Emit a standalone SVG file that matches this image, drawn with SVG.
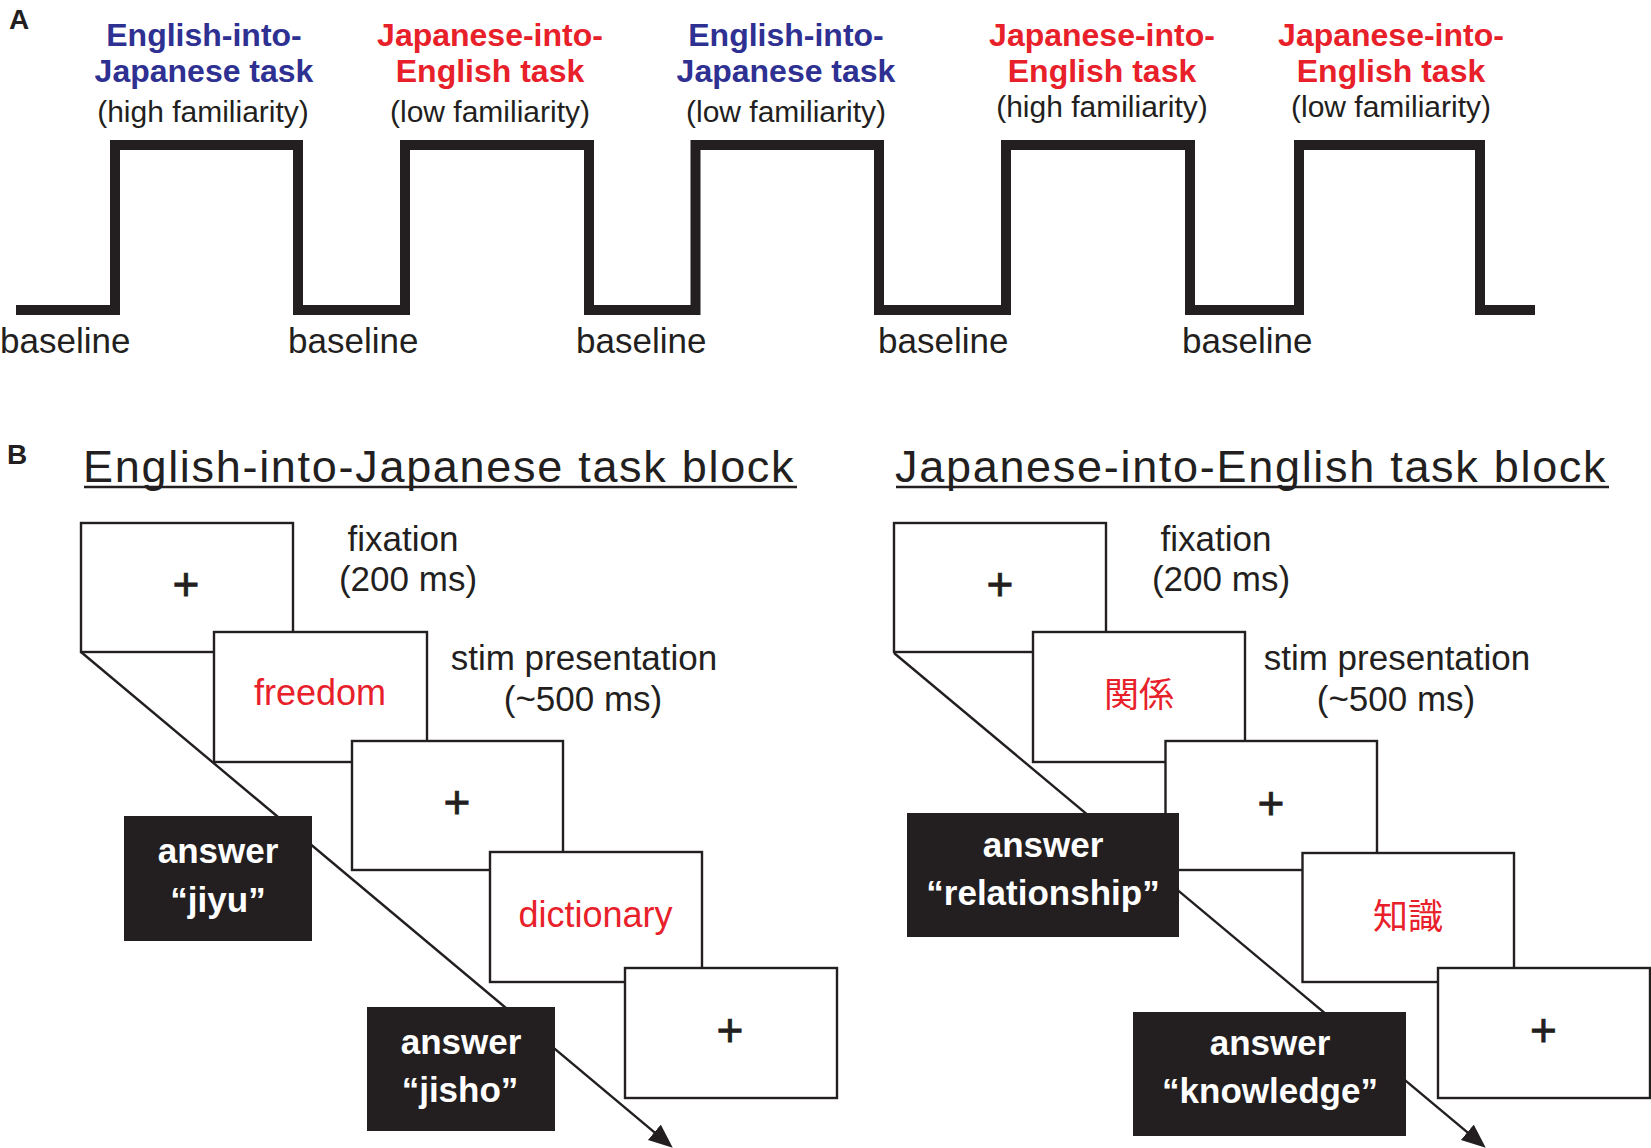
<svg xmlns="http://www.w3.org/2000/svg" width="1651" height="1148" viewBox="0 0 1651 1148">
<style>
.t{font-family:"Liberation Sans",Arial,sans-serif;fill:#231f20}
.b{font-weight:bold}
.blue{fill:#2e3192}
.red{fill:#e8202a}
.lab{font-size:32px;font-weight:bold;text-anchor:middle}
.fam{font-size:30px;text-anchor:middle}
.base{font-size:35px}
.title{font-size:45px;letter-spacing:1.7px}
.note{font-size:35px;text-anchor:middle}
.word{font-size:36px;text-anchor:middle}
.cjk{font-family:"Liberation Sans","Noto Sans CJK JP",sans-serif;font-size:35px;text-anchor:middle}
.plus{font-size:46px;text-anchor:middle;stroke:#231f20;stroke-width:0.8}
.ans{font-size:35px;font-weight:bold;text-anchor:middle;fill:#fff}
.box{fill:#fff;stroke:#231f20;stroke-width:2.4}
.blk{fill:#231f20}
.conn{stroke:#231f20;stroke-width:2.4;fill:none}
.ul{stroke:#231f20;stroke-width:2.5}
</style>
<defs>
<marker id="arr" markerUnits="userSpaceOnUse" markerWidth="26" markerHeight="22" refX="20" refY="10" orient="auto">
<path d="M0,0 L24,10 L0,20 Z" fill="#231f20"/>
</marker>
</defs>
<rect width="1651" height="1148" fill="#fff"/>

<g id="panelA">
<text class="t b" x="9" y="29" font-size="28">A</text>
<path id="wave" d="M16 310 H115 V145 H298 V310 H405 V145 H589 V310 H695.5 V145 H879 V310 H1006 V145 H1190 V310 H1299 V145 H1480 V310 H1535" fill="none" stroke="#231f20" stroke-width="10" stroke-linejoin="miter"/>
<g id="labelA1">
<text class="t lab blue" x="204" y="46">English-into-</text>
<text class="t lab blue" x="204" y="82">Japanese task</text>
<text class="t fam" x="203" y="122">(high familiarity)</text>
</g>
<g id="labelA2">
<text class="t lab red" x="490" y="46">Japanese-into-</text>
<text class="t lab red" x="490" y="82">English task</text>
<text class="t fam" x="490" y="122">(low familiarity)</text>
</g>
<g id="labelA3">
<text class="t lab blue" x="786" y="46">English-into-</text>
<text class="t lab blue" x="786" y="82">Japanese task</text>
<text class="t fam" x="786" y="122">(low familiarity)</text>
</g>
<g id="labelA4">
<text class="t lab red" x="1102" y="46">Japanese-into-</text>
<text class="t lab red" x="1102" y="82">English task</text>
<text class="t fam" x="1102" y="117">(high familiarity)</text>
</g>
<g id="labelA5">
<text class="t lab red" x="1391" y="46">Japanese-into-</text>
<text class="t lab red" x="1391" y="82">English task</text>
<text class="t fam" x="1391" y="117">(low familiarity)</text>
</g>
<g id="baselines">
<text class="t base" x="0" y="353">baseline</text>
<text class="t base" x="288" y="353">baseline</text>
<text class="t base" x="576" y="353">baseline</text>
<text class="t base" x="878" y="353">baseline</text>
<text class="t base" x="1182" y="353">baseline</text>
</g>
</g>

<g id="panelB-labels">
<text class="t b" x="7" y="464" font-size="28">B</text>
<text class="t title" x="83" y="482">English-into-Japanese task block</text>
<line class="ul" x1="84" y1="487" x2="797" y2="487"/>
<text class="t title" x="895" y="482">Japanese-into-English task block</text>
<line class="ul" x1="896" y1="487" x2="1609" y2="487"/>
<text class="t note" x="403" y="551">fixation</text>
<text class="t note" x="408" y="591">(200 ms)</text>
<text class="t note" x="584" y="670">stim presentation</text>
<text class="t note" x="583" y="711">(~500 ms)</text>
<text class="t note" x="1216" y="551">fixation</text>
<text class="t note" x="1221" y="591">(200 ms)</text>
<text class="t note" x="1397" y="670">stim presentation</text>
<text class="t note" x="1396" y="711">(~500 ms)</text>
</g>

<g id="connectors">
<line class="conn" x1="81" y1="652" x2="669.7" y2="1145.1" marker-end="url(#arr)"/>
<line class="conn" x1="894" y1="653" x2="1482.7" y2="1145.1" marker-end="url(#arr)"/>
</g>

<g id="L1"><rect class="box" x="81" y="523" width="212" height="129"/><text class="t plus" x="186" y="600">+</text></g>
<g id="L2"><rect class="box" x="214" y="632" width="213" height="130"/><text class="t word red" x="320" y="705">freedom</text></g>
<g id="L3"><rect class="box" x="352" y="741" width="211" height="129"/><text class="t plus" x="457" y="818">+</text></g>
<g id="L4"><rect class="box" x="490" y="852" width="212" height="130"/><text class="t word red" x="595.5" y="927">dictionary</text></g>
<g id="L5"><rect class="box" x="625" y="968" width="212" height="130"/><text class="t plus" x="730" y="1046">+</text></g>
<g id="L-ans1"><rect class="blk" x="124" y="816" width="188" height="125"/><text class="t ans" x="218" y="863">answer</text><text class="t ans" x="218" y="911.5">“jiyu”</text></g>
<g id="L-ans2"><rect class="blk" x="367" y="1007" width="188" height="124"/><text class="t ans" x="461" y="1054">answer</text><text class="t ans" x="460" y="1101.5">“jisho”</text></g>

<g id="R1"><rect class="box" x="894" y="523" width="212" height="129"/><text class="t plus" x="1000" y="600">+</text></g>
<g id="R2"><rect class="box" x="1033" y="632" width="212" height="130"/><text class="cjk red" x="1139" y="707">関係</text></g>
<g id="R3"><rect class="box" x="1165.5" y="741" width="211.5" height="129"/><text class="t plus" x="1271" y="819">+</text></g>
<g id="R4"><rect class="box" x="1302.5" y="853" width="211.5" height="129"/><text class="cjk red" x="1408" y="929">知識</text></g>
<g id="R5"><rect class="box" x="1438" y="968" width="212" height="130"/><text class="t plus" x="1543.5" y="1046">+</text></g>
<g id="R-ans1"><rect class="blk" x="907" y="813" width="272" height="124"/><text class="t ans" x="1043" y="857">answer</text><text class="t ans" x="1043" y="905">“relationship”</text></g>
<g id="R-ans2"><rect class="blk" x="1133" y="1012" width="273" height="124"/><text class="t ans" x="1270" y="1055">answer</text><text class="t ans" x="1270" y="1102.5">“knowledge”</text></g>
</svg>
